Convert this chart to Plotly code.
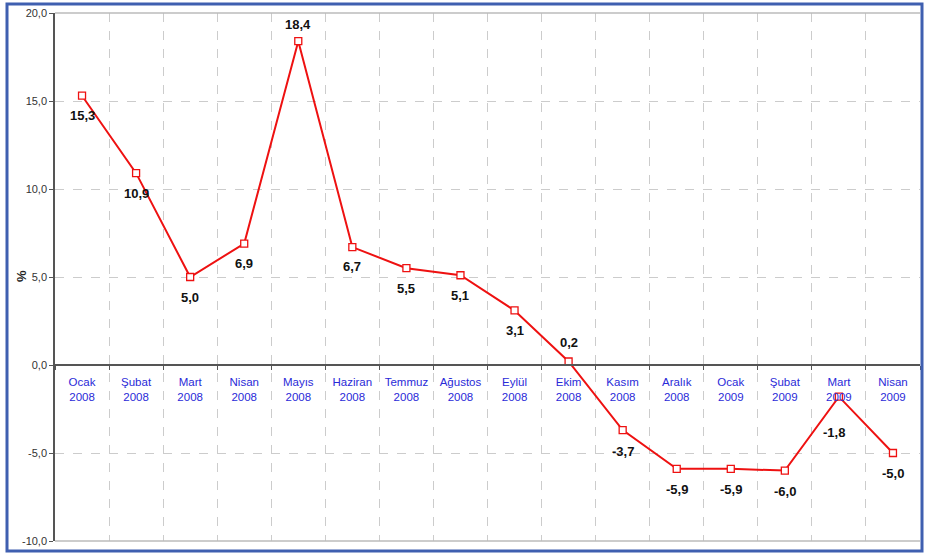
import plotly.graph_objects as go

# Monthly change (%) by period
months = ["Ocak", "Şubat", "Mart", "Nisan", "Mayıs", "Haziran", "Temmuz", "Ağustos",
          "Eylül", "Ekim", "Kasım", "Aralık", "Ocak", "Şubat", "Mart", "Nisan"]
years = ["2008"] * 12 + ["2009"] * 4
values = [15.3, 10.9, 5.0, 6.9, 18.4, 6.7, 5.5, 5.1, 3.1, 0.2, -3.7, -5.9, -5.9, -6.0, -1.8, -5.0]
# label offset (px) relative to each point: negative = below
label_shift = [-20, -20, -20, -20, 17, -19, -20, -20, -20, 19, -21, -21, -21, -21, -36, -20]
label_xshift = [0, 0, 0, 0, 0, 0, 0, 0, 0, 0, 0, 0, 0, 0, -5, 0]

categories = [f"{m}<br>{y}" for m, y in zip(months, years)]
labels = [f"{v:.1f}".replace(".", ",") for v in values]
y_ticks = [-10, -5, 0, 5, 10, 15, 20]

W, H = 925, 554
ML, MR, MT, MB = 55, 5, 13, 13
pw, ph = W - ML - MR, H - MT - MB

def px_x(p):
    return (p - ML) / pw

def px_y(p):
    return 1 - (p - MT) / ph

FONT = "Arial, Liberation Sans"

fig = go.Figure()
fig.add_trace(go.Scatter(
    x=categories, y=values, mode="lines+markers",
    line=dict(color="#ee1111", width=2),
    marker=dict(symbol="square", size=7, color="white",
                line=dict(color="#ee1111", width=1.3)),
    hoverinfo="skip", cliponaxis=False,
))

for c, v, t, dy, dx in zip(categories, values, labels, label_shift, label_xshift):
    fig.add_annotation(x=c, y=v, text=f"<b>{t}</b>", showarrow=False,
                       yshift=dy, xshift=dx,
                       font=dict(family=FONT, size=13, color="#111"))

# y-axis unit label
fig.add_annotation(xref="paper", yref="paper", x=px_x(21), y=px_y(276),
                   xanchor="center", yanchor="middle",
                   text="<b>%</b>", textangle=-90, showarrow=False,
                   font=dict(family=FONT, size=13, color="#222"))

# outer blue frame and light plot-area edges
fig.add_shape(type="rect", xref="paper", yref="paper",
              x0=px_x(7), x1=px_x(922), y0=px_y(551), y1=px_y(4),
              line=dict(color="#3f5fb0", width=3), layer="above")
for yy in (0, 1):
    fig.add_shape(type="line", xref="paper", yref="paper", x0=0, x1=1, y0=yy, y1=yy,
                  line=dict(color="#bbbbbb", width=1.5))

y0, y1 = -10, 20
fig.update_layout(
    width=W, height=H,
    margin=dict(l=ML, r=MR, t=MT, b=MB),
    paper_bgcolor="white", plot_bgcolor="white",
    showlegend=False,
    font=dict(family=FONT, size=11, color="#333"),
    xaxis=dict(
        type="category", range=[-0.5, len(categories) - 0.5],
        anchor="free", position=(0 - y0) / (y1 - y0),
        tickson="boundaries", ticks="outside", ticklen=4, tickcolor="#555",
        tickangle=0, ticklabelstandoff=6,
        showline=True, linecolor="#555", linewidth=1.5,
        showgrid=True, gridcolor="#cccccc", griddash="dash", gridwidth=1,
        tickfont=dict(family=FONT, size=11.5, color="#2a2ad8"),
        fixedrange=True,
    ),
    yaxis=dict(
        range=[y0, y1], tickvals=y_ticks,
        ticktext=[f"{t:.1f}".replace(".", ",") for t in y_ticks],
        ticks="outside", ticklen=4, tickcolor="#555",
        showline=True, linecolor="#555", linewidth=1.5,
        showgrid=True, gridcolor="#cccccc", griddash="dash", gridwidth=1,
        zeroline=False,
        tickfont=dict(family=FONT, size=11, color="#333"),
        fixedrange=True,
    ),
)

fig.write_html("out.html")
